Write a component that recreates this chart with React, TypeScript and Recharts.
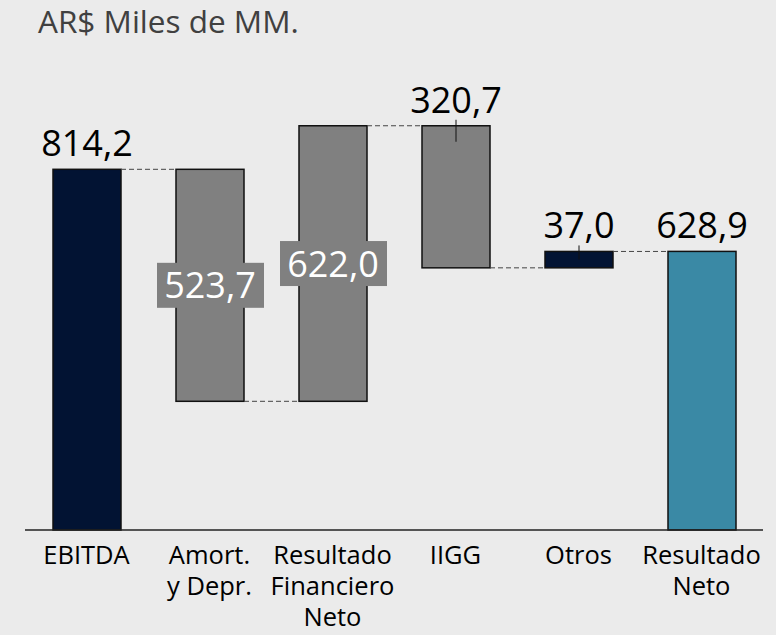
import React from "react";
import { ComposedChart, Bar, XAxis, YAxis, LabelList } from "recharts";

// AR$ Miles de MM. — puente EBITDA a Resultado Neto
const categories = [
  "EBITDA",
  "Amort.\ny Depr.",
  "Resultado\nFinanciero\nNeto",
  "IIGG",
  "Otros",
  "Resultado\nNeto",
];
const values = [814.2, -523.7, 622.0, -320.7, 37.0, 628.9];
const isTotal = [false, false, false, false, false, true];
const valueLabels = ["814,2", "523,7", "622,0", "320,7", "37,0", "628,9"];

const barColors = ["#021333", "#808080", "#808080", "#808080", "#021333", "#3a89a5"];
const insideLabels = [1, 2];
const markers = [3, 4];

const W = 776;
const H = 635;
const ML = 25;
const MR = 13;
const BAND = (W - ML - MR) / categories.length;
const FONT = "'Open Sans', 'DejaVu Sans', sans-serif";

let running = 0;
const rows = categories.map((name, i) => {
  const v = values[i];
  let base = 0;
  let size = Math.abs(v);
  if (i === 0 || isTotal[i]) {
    running = v;
  } else if (v >= 0) {
    base = running;
    running += v;
  } else {
    base = running + v;
    running += v;
  }
  return { name, base, size, up: v >= 0, label: valueLabels[i] };
});

const WaterfallBar = (props: any) => {
  const { x, y, width, height, index } = props;
  const row = rows[index];
  const connY = row.up ? y : y + height;
  const last = index === rows.length - 1;
  return (
    <g>
      <rect
        x={x}
        y={y}
        width={width}
        height={height}
        fill={barColors[index]}
        stroke="#111"
        strokeWidth={1.5}
      />
      {!last && (
        <line
          x1={x + width}
          x2={x + BAND}
          y1={connY}
          y2={connY}
          stroke="#444"
          strokeWidth={1}
          strokeDasharray="5 3"
        />
      )}
      {markers.includes(index) && (
        <line
          x1={x + width / 2}
          x2={x + width / 2}
          y1={y - 6}
          y2={y + (height > 30 ? 16 : 8)}
          stroke="#111"
          strokeWidth={1}
        />
      )}
    </g>
  );
};

const ValueLabel = (props: any) => {
  const { x, y, width, height, index } = props;
  const text = rows[index].label;
  const cx = x + width / 2;
  if (insideLabels.includes(index)) {
    const cy = y + height / 2;
    return (
      <g>
        <rect x={cx - 53} y={cy - 22.5} width={107} height={45} fill="#808080" />
        <text
          x={cx}
          y={cy + 13}
          textAnchor="middle"
          fontSize={36}
          fontFamily={FONT}
          fill="#fff"
        >
          {text}
        </text>
      </g>
    );
  }
  return (
    <text x={cx} y={y - 13} textAnchor="middle" fontSize={36} fontFamily={FONT} fill="#000">
      {text}
    </text>
  );
};

const CategoryTick = (props: any) => {
  const { x, y, payload } = props;
  const lines = String(payload.value).split("\n");
  return (
    <text x={x} y={y} textAnchor="middle" fontSize={25.5} fontFamily={FONT} fill="#000">
      {lines.map((l, i) => (
        <tspan key={i} x={x} dy={i === 0 ? 34 : 31}>
          {l}
        </tspan>
      ))}
    </text>
  );
};

export default function App() {
  return (
    <div
      style={{
        position: "absolute",
        left: 0,
        top: 0,
        width: W,
        height: H,
        background: "#ebebeb",
        overflow: "hidden",
      }}
    >
      <svg width={W} height={60} style={{ position: "absolute", left: 0, top: 0 }}>
        <text x={38} y={33} fontSize={31.5} fontFamily={FONT} fill="#404040">
          AR$ Miles de MM.
        </text>
      </svg>
      <div style={{ position: "absolute", left: 0, top: 0 }}>
        <ComposedChart
          width={W}
          height={H}
          data={rows}
          margin={{ top: 87, right: MR, bottom: 5, left: ML }}
          barSize={68}
        >
          <XAxis
            dataKey="name"
            interval={0}
            height={100}
            tickLine={false}
            tickSize={0}
            tickMargin={0}
            axisLine={{ stroke: "#222", strokeWidth: 1.5 }}
            tick={<CategoryTick />}
          />
          <YAxis hide domain={[0, 1000]} />
          <Bar dataKey="base" stackId="w" fill="transparent" isAnimationActive={false} />
          <Bar dataKey="size" stackId="w" shape={<WaterfallBar />} isAnimationActive={false}>
            <LabelList dataKey="label" content={<ValueLabel />} />
          </Bar>
        </ComposedChart>
      </div>
    </div>
  );
}
